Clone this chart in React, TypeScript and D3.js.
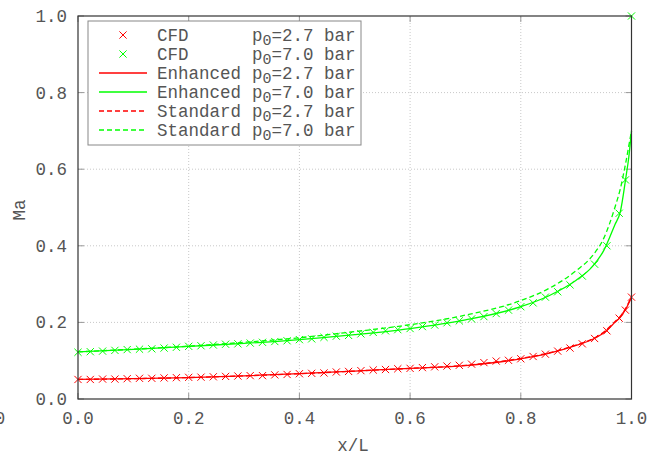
import React from "react";
import * as d3 from "d3";

const xTicks = [0, 0.2, 0.4, 0.6, 0.8, 1.0];
const yTicks = [0, 0.2, 0.4, 0.6, 0.8, 1.0];

// CFD sample positions (x/L)
const cfdX = [
  0, 1 / 45, 2 / 45, 3 / 45, 4 / 45, 5 / 45, 6 / 45, 7 / 45, 8 / 45, 9 / 45,
  10 / 45, 11 / 45, 12 / 45, 13 / 45, 14 / 45, 15 / 45, 16 / 45, 17 / 45, 18 / 45, 19 / 45,
  20 / 45, 21 / 45, 22 / 45, 23 / 45, 24 / 45, 25 / 45, 26 / 45, 27 / 45, 28 / 45, 29 / 45,
  30 / 45, 31 / 45, 32 / 45, 33 / 45, 34 / 45, 35 / 45, 36 / 45, 37 / 45, 38 / 45, 39 / 45,
  40 / 45, 41 / 45, 42 / 45, 43 / 45, 44 / 45, 0.989, 1.0,
];
const cfdLow = [
  0.051, 0.051, 0.052, 0.052, 0.053, 0.054, 0.054, 0.055, 0.0557, 0.0565,
  0.057, 0.058, 0.059, 0.06, 0.061, 0.061, 0.063, 0.064, 0.066, 0.067,
  0.068, 0.0705, 0.072, 0.074, 0.0757, 0.077, 0.079, 0.08, 0.082, 0.084,
  0.086, 0.088, 0.091, 0.095, 0.099, 0.101, 0.105, 0.111, 0.117, 0.125,
  0.133, 0.144, 0.158, 0.178, 0.211, 0.232, 0.266,
];
const cfdHigh = [
  0.122, 0.1235, 0.125, 0.127, 0.129, 0.13, 0.131, 0.133, 0.135, 0.1375,
  0.139, 0.141, 0.143, 0.144, 0.146, 0.148, 0.15, 0.152, 0.155, 0.157,
  0.161, 0.164, 0.166, 0.17, 0.174, 0.178, 0.181, 0.184, 0.189, 0.193,
  0.199, 0.204, 0.209, 0.215, 0.223, 0.232, 0.241, 0.251, 0.266, 0.28,
  0.298, 0.321, 0.352, 0.4, 0.485, 0.572, 1.0,
];

// model curves
const lineX = [0, 0.1, 0.2, 0.3, 0.4, 0.5, 0.6, 0.7, 0.8, 0.85, 0.9, 0.93, 0.95, 0.97, 0.98, 0.99, 0.995, 1.0];
const enhancedLow = [0.051, 0.053, 0.056, 0.0605, 0.066, 0.073, 0.08, 0.087, 0.105, 0.119, 0.14, 0.156, 0.173, 0.2, 0.214, 0.236, 0.25, 0.266];
const enhancedHigh = [0.123, 0.1295, 0.1375, 0.145, 0.155, 0.168, 0.184, 0.2065, 0.241, 0.269, 0.31, 0.347, 0.388, 0.455, 0.49, 0.58, 0.63, 0.7];
const standardLow = [0.051, 0.053, 0.056, 0.0605, 0.066, 0.073, 0.08, 0.088, 0.106, 0.12, 0.141, 0.157, 0.175, 0.202, 0.216, 0.238, 0.252, 0.267];
const standardHigh = [0.123, 0.13, 0.138, 0.148, 0.16, 0.176, 0.194, 0.219, 0.257, 0.288, 0.335, 0.375, 0.42, 0.5, 0.55, 0.62, 0.66, 0.7];

const legendLabels = ["CFD", "CFD", "Enhanced", "Enhanced", "Standard", "Standard"];
const legendP = ["2.7", "7.0", "2.7", "7.0", "2.7", "7.0"];

const RED = "#ff0000";
const GREEN = "#00ff00";
const TXT = "#555555";
const FONT = "'Liberation Mono', 'DejaVu Sans Mono', monospace";

export default function App() {
  const W = 656;
  const H = 455;
  const x = d3.scaleLinear().domain([0, 1]).range([78, 631.5]);
  const y = d3.scaleLinear().domain([0, 1]).range([399, 16]);
  const [x0, x1] = x.range();
  const [y0, y1] = y.range();

  const line = d3
    .line<[number, number]>()
    .x((d) => x(d[0]))
    .y((d) => y(d[1]))
    .curve(d3.curveMonotoneX);

  const zip = (xs: number[], ys: number[]) => xs.map((v, i) => [v, ys[i]] as [number, number]);

  const cross = (cx: number, cy: number, color: string, key: string) => {
    const s = 3.6;
    return (
      <path
        key={key}
        d={`M${cx - s},${cy - s}L${cx + s},${cy + s}M${cx - s},${cy + s}L${cx + s},${cy - s}`}
        stroke={color}
        strokeWidth={1}
        fill="none"
      />
    );
  };

  const series = [
    { kind: "cfd", color: RED },
    { kind: "cfd", color: GREEN },
    { kind: "solid", color: RED },
    { kind: "solid", color: GREEN },
    { kind: "dash", color: RED },
    { kind: "dash", color: GREEN },
  ];

  const legX = 88;
  const legY = 21;
  const legW = 273;
  const legH = 124;
  const rowY = (i: number) => 35 + i * 19;

  return (
    <svg
      width={W}
      height={H}
      style={{ position: "absolute", left: 0, top: 0, background: "#fff" }}
      fontFamily={FONT}
    >
      <rect x={0} y={0} width={W} height={H} fill="#fff" />
      {/* grid */}
      {xTicks.slice(1, -1).map((t) => (
        <line key={"gx" + t} x1={x(t)} x2={x(t)} y1={y0} y2={y1} stroke="#c8c8c8" strokeWidth={1} strokeDasharray="1,2" />
      ))}
      {yTicks.slice(1, -1).map((t) => (
        <line key={"gy" + t} x1={x0} x2={x1} y1={y(t)} y2={y(t)} stroke="#c8c8c8" strokeWidth={1} strokeDasharray="1,2" />
      ))}
      {/* ticks */}
      {xTicks.map((t) => (
        <g key={"tx" + t}>
          <line x1={x(t)} x2={x(t)} y1={y0} y2={y0 - 6} stroke="#999" />
          <line x1={x(t)} x2={x(t)} y1={y1} y2={y1 + 6} stroke="#999" />
          <text x={x(t)} y={424} textAnchor="middle" fontSize={17.5} fill={TXT}>
            {d3.format(".1f")(t)}
          </text>
        </g>
      ))}
      {yTicks.map((t) => (
        <g key={"ty" + t}>
          <line x1={x0} x2={x0 + 6} y1={y(t)} y2={y(t)} stroke="#999" />
          <line x1={x1} x2={x1 - 6} y1={y(t)} y2={y(t)} stroke="#999" />
          <text x={67} y={y(t) + 6} textAnchor="end" fontSize={17.5} fill={TXT}>
            {d3.format(".1f")(t)}
          </text>
        </g>
      ))}
      <text x={0} y={424} textAnchor="middle" fontSize={17.5} fill={TXT}>0</text>
      {/* axis titles */}
      <text x={353} y={451} textAnchor="middle" fontSize={17.5} fill={TXT}>x/L</text>
      <text
        x={0}
        y={0}
        transform={`translate(25,210) rotate(-90)`}
        textAnchor="middle"
        fontSize={17.5}
        fill={TXT}
      >
        Ma
      </text>

      {/* curves */}
      <path d={line(zip(lineX, standardLow)) || ""} fill="none" stroke={RED} strokeWidth={1.3} strokeDasharray="5,3" />
      <path d={line(zip(lineX, standardHigh)) || ""} fill="none" stroke={GREEN} strokeWidth={1.3} strokeDasharray="5,3" />
      <path d={line(zip(lineX, enhancedLow)) || ""} fill="none" stroke={RED} strokeWidth={1.3} />
      <path d={line(zip(lineX, enhancedHigh)) || ""} fill="none" stroke={GREEN} strokeWidth={1.3} />
      {cfdX.map((v, i) => cross(x(v), y(cfdLow[i]), RED, "cl" + i))}
      {cfdX.map((v, i) => cross(x(v), y(cfdHigh[i]), GREEN, "ch" + i))}

      {/* frame */}
      <rect x={x0} y={y1} width={x1 - x0} height={y0 - y1} fill="none" stroke="#333" strokeWidth={1.2} />

      {/* legend */}
      <rect x={legX} y={legY} width={legW} height={legH} fill="#fff" stroke="#888" strokeWidth={1} />
      {series.map((s, i) => {
        const ry = rowY(i);
        return (
          <g key={"leg" + i}>
            {s.kind === "cfd" ? (
              cross(123, ry, s.color, "lm" + i)
            ) : (
              <line
                x1={99}
                x2={147}
                y1={ry}
                y2={ry}
                stroke={s.color}
                strokeWidth={1.3}
                strokeDasharray={s.kind === "dash" ? "5,3" : undefined}
              />
            )}
            <text x={157} y={ry + 6} fontSize={17.5} fill={TXT}>
              {legendLabels[i]}
            </text>
            <text x={252} y={ry + 6} fontSize={17.5} fill={TXT}>
              p
              <tspan dy={4} fontSize={15}>0</tspan>
              <tspan dy={-4}>{"=" + legendP[i] + " bar"}</tspan>
            </text>
          </g>
        );
      })}
    </svg>
  );
}
